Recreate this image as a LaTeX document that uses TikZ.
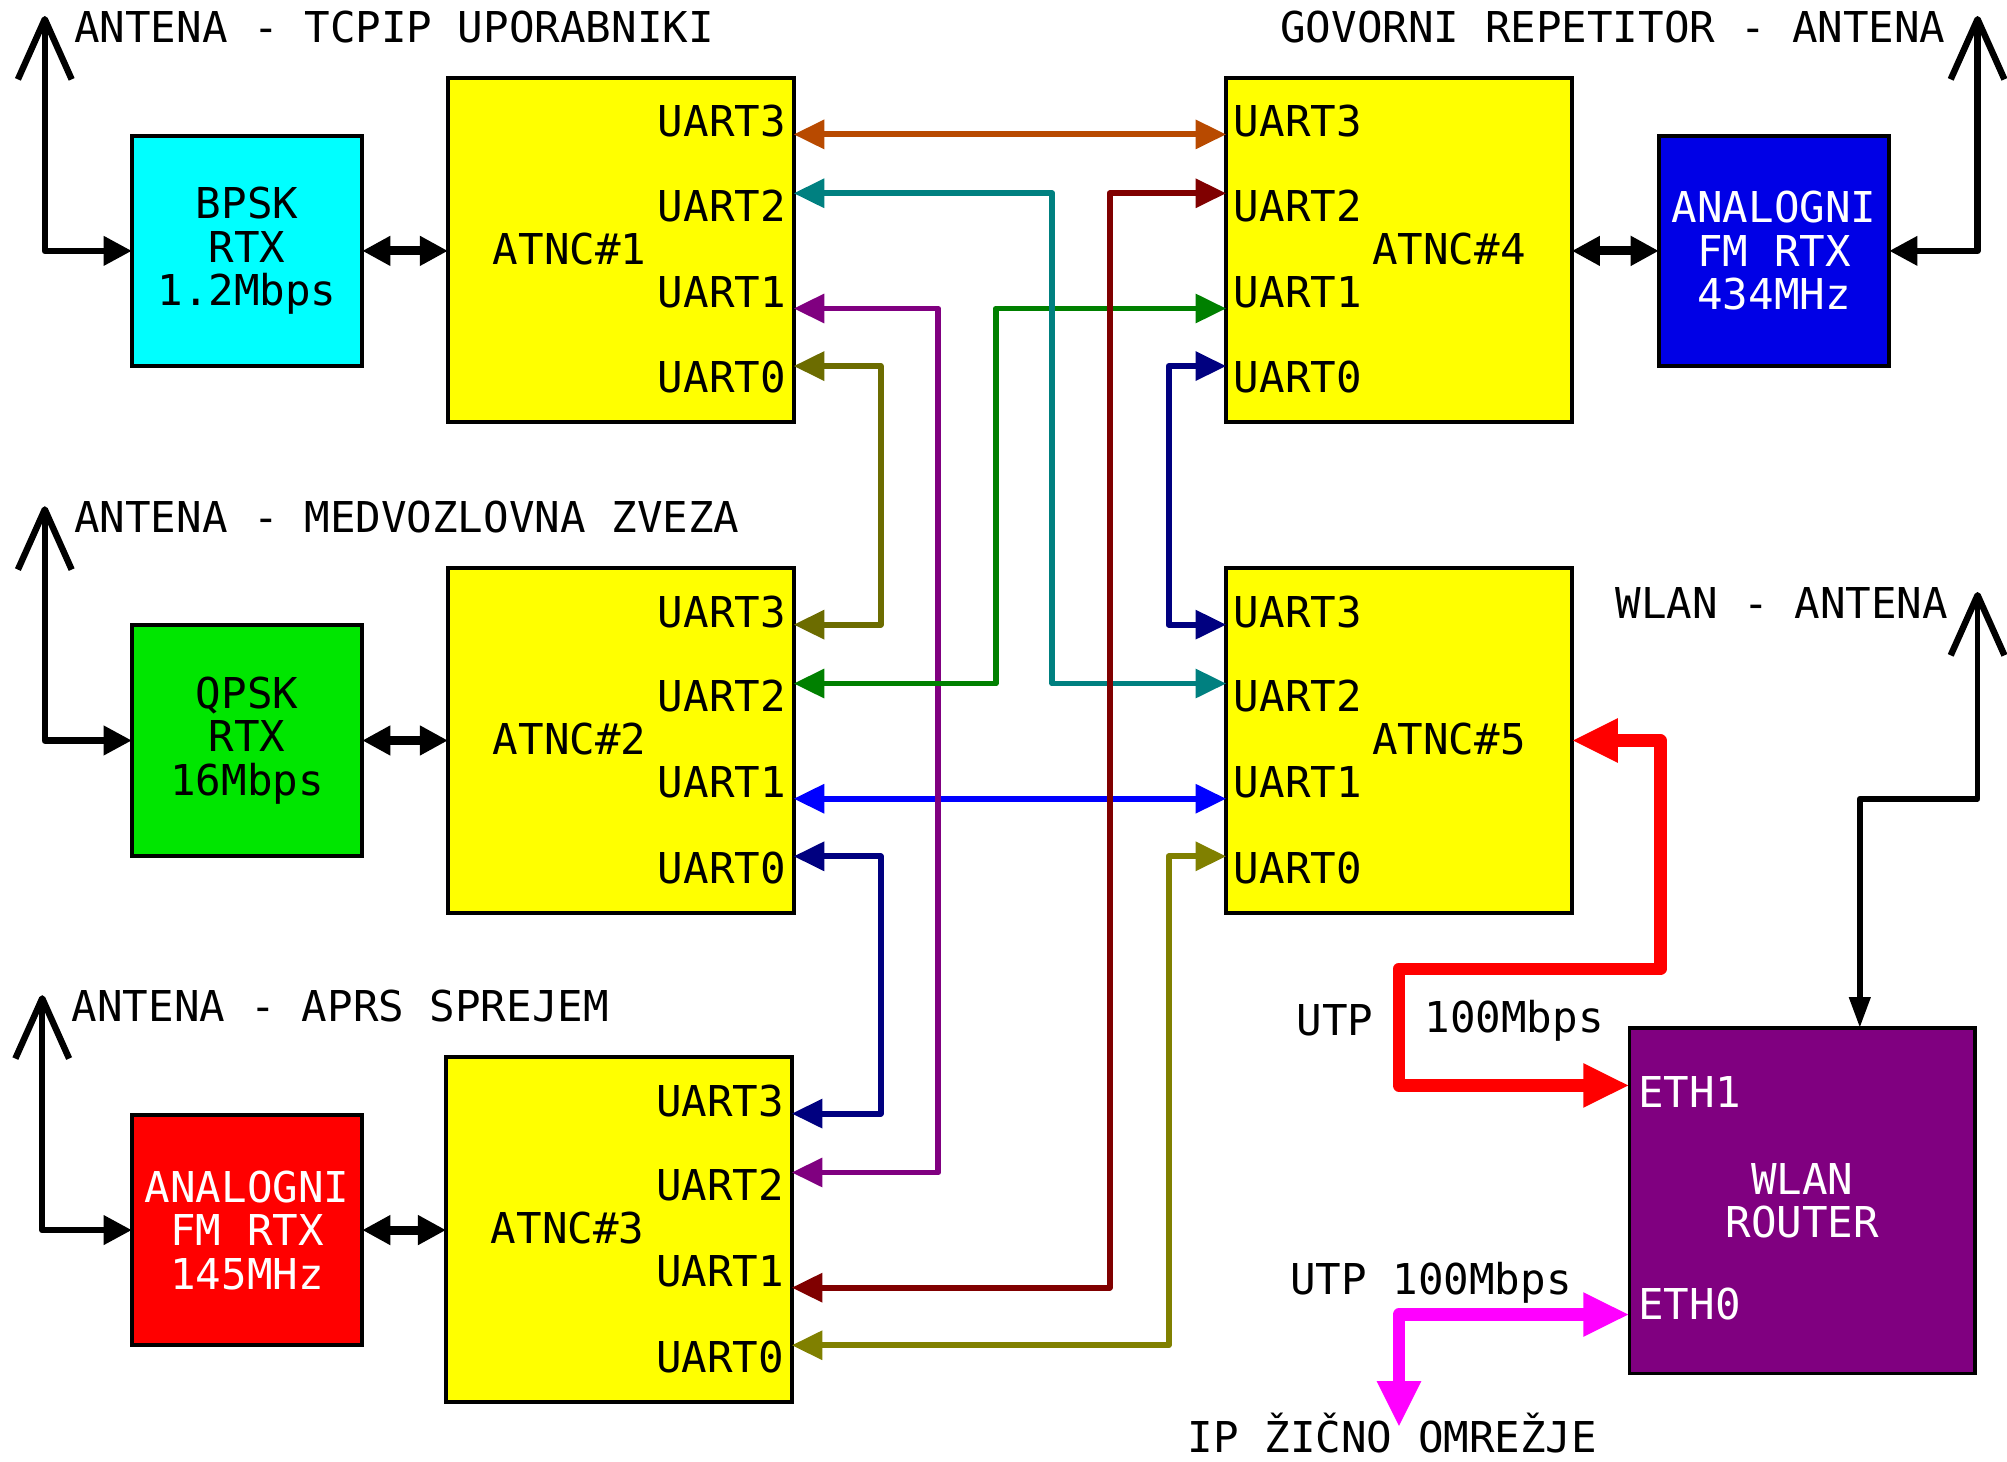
\documentclass[tikz,border=0pt]{standalone}
\usepackage{fontspec}
\setmainfont{DejaVu Sans Mono}
\usetikzlibrary{arrows.meta,calc}
\definecolor{cOrange}{RGB}{184,74,0}
\definecolor{cTeal}{RGB}{0,128,128}
\definecolor{cPurple}{RGB}{128,0,128}
\definecolor{cDOlive}{RGB}{108,108,0}
\definecolor{cOlive}{RGB}{128,128,0}
\definecolor{cMaroon}{RGB}{128,0,0}
\definecolor{cGreen}{RGB}{0,128,0}
\definecolor{cNavy}{RGB}{0,0,128}
\definecolor{cBlue}{RGB}{0,0,255}
\definecolor{fCyan}{RGB}{0,255,255}
\definecolor{fGreen}{RGB}{0,230,0}
\definecolor{fBlue}{RGB}{0,0,230}
\definecolor{fRed}{RGB}{255,0,0}
\definecolor{fYellow}{RGB}{255,255,0}
\definecolor{fPurple}{RGB}{128,0,128}
\definecolor{cMagenta}{RGB}{255,0,255}
\begin{document}
\begin{tikzpicture}[x=0.5pt,y=-0.5pt,
  font=\fontsize{16.6}{17}\selectfont,
  box/.style={draw=black,line width=1.5pt,inner sep=0pt,outer sep=0pt,align=center},
  rtxbox/.style={box,minimum width=90pt,minimum height=90pt},
  atnc/.style={box,fill=fYellow,minimum width=135pt,minimum height=134.5pt},
  lab/.style={inner sep=0pt,outer sep=0pt},
  conn/.style={line width=2.3pt,line join=round,
    arrows={Triangle[length=12pt,width=11pt]-Triangle[length=12pt,width=11pt]}},
  biarrow/.style={line width=3.5pt,
    arrows={Triangle[length=11pt,width=11pt]-Triangle[length=11pt,width=11pt]}},
  antline/.style={line width=2.5pt,line join=round},
  antin/.style={antline,arrows={-Triangle[length=11pt,width=11pt]}},
  utp/.style={line width=5pt,line join=round,
    arrows={Triangle[length=18pt,width=16pt]-Triangle[length=18pt,width=16pt]}}
]
\useasboundingbox (0,0) rectangle (1568,1142);

% radio boxes
\node[rtxbox,fill=fCyan] (bpsk) at (193,196) {BPSK\\RTX\\1.2Mbps};
\node[rtxbox,fill=fGreen] (qpsk) at (193,578.5) {QPSK\\RTX\\16Mbps};
\node[rtxbox,fill=fRed,text=white] (fm145) at (193,961) {ANALOGNI\\FM RTX\\145MHz};
\node[rtxbox,fill=fBlue,text=white] (fm434) at (1386,196) {ANALOGNI\\FM RTX\\434MHz};

% ATNC boxes
\node[atnc] (a1) at (485,195.5) {};
\node[atnc] (a2) at (485,578.5) {};
\node[atnc] (a3) at (483.5,960.5) {};
\node[atnc] (a4) at (1093,195.5) {};
\node[atnc] (a5) at (1093,578.5) {};

% router
\node[box,fill=fPurple,text=white,minimum width=135pt,minimum height=135pt] (rt) at (1408,938) {WLAN\\ROUTER};
\node[lab,anchor=base west,text=white] at ($(rt.north west)+(7,62)$) {ETH1};
\node[lab,anchor=base west,text=white] at ($(rt.north west)+(7,228)$) {ETH0};

% ATNC labels
\node[lab,anchor=base] at ($(a1.center)+(-40,11)$) {ATNC\#1};
\node[lab,anchor=base] at ($(a2.center)+(-40,11)$) {ATNC\#2};
\node[lab,anchor=base] at ($(a3.center)+(-40,11)$) {ATNC\#3};
\node[lab,anchor=base] at ($(a4.center)+(39,11)$) {ATNC\#4};
\node[lab,anchor=base] at ($(a5.center)+(39,11)$) {ATNC\#5};

% UART labels and ports
\foreach \b in {a1,a2,a3} {
  \node[lab,anchor=base east] at ($(\b.north east)+(-6,46)$) {UART3};
  \node[lab,anchor=base east] at ($(\b.north east)+(-6,112)$) {UART2};
  \node[lab,anchor=base east] at ($(\b.north east)+(-6,179)$) {UART1};
  \node[lab,anchor=base east] at ($(\b.north east)+(-6,246)$) {UART0};
  \coordinate (\b p3) at ($(\b.north east)+(0,44)$);
  \coordinate (\b p2) at ($(\b.north east)+(0,90)$);
  \coordinate (\b p1) at ($(\b.north east)+(0,180)$);
  \coordinate (\b p0) at ($(\b.north east)+(0,225)$);
}
\foreach \b in {a4,a5} {
  \node[lab,anchor=base west] at ($(\b.north west)+(6,46)$) {UART3};
  \node[lab,anchor=base west] at ($(\b.north west)+(6,112)$) {UART2};
  \node[lab,anchor=base west] at ($(\b.north west)+(6,179)$) {UART1};
  \node[lab,anchor=base west] at ($(\b.north west)+(6,246)$) {UART0};
  \coordinate (\b p3) at ($(\b.north west)+(0,44)$);
  \coordinate (\b p2) at ($(\b.north west)+(0,90)$);
  \coordinate (\b p1) at ($(\b.north west)+(0,180)$);
  \coordinate (\b p0) at ($(\b.north west)+(0,225)$);
}

% bend columns
\coordinate (xDOlive) at (688,0);
\coordinate (xPurple) at (733,0);
\coordinate (xGreen) at (778,0);
\coordinate (xTeal) at (822,0);
\coordinate (xMaroon) at (867,0);
\coordinate (xRight) at (913,0);

% UART connectors
\draw[conn,cOrange] (a1p3) -- (a4p3);
\draw[conn,cBlue] (a2p1) -- (a5p1);
\draw[conn,cDOlive] (a1p0) -- (a1p0 -| xDOlive) |- (a2p3);
\draw[conn,cNavy] (a2p0) -- (a2p0 -| xDOlive) |- (a3p3);
\draw[conn,cPurple] (a1p1) -- (a1p1 -| xPurple) |- (a3p2);
\draw[conn,cGreen] (a2p2) -- (a2p2 -| xGreen) |- (a4p1);
\draw[conn,cTeal] (a1p2) -- (a1p2 -| xTeal) |- (a5p2);
\draw[conn,cMaroon] (a3p1) -- (a3p1 -| xMaroon) |- (a4p2);
\draw[conn,cNavy] (a4p0) -- (a4p0 -| xRight) |- (a5p3);
\draw[conn,cOlive] (a3p0) -- (a3p0 -| xRight) |- (a5p0);

% radio <-> ATNC
\draw[biarrow] (bpsk.east) -- (a1.west |- bpsk.east);
\draw[biarrow] (qpsk.east) -- (a2.west |- qpsk.east);
\draw[biarrow] (fm145.east) -- (a3.west |- fm145.east);
\draw[biarrow] (a4.east |- fm434.west) -- (fm434.west);

% antennas
\coordinate (t1) at (35,15);
\coordinate (t2) at (35,398);
\coordinate (t3) at (33,780);
\coordinate (t4) at (1545,15);
\coordinate (t6) at (1545,465);
\foreach \t in {t1,t2,t3,t4,t6} {
  \draw[antline] ($(\t)+(-21,47)$) -- (\t) -- ($(\t)+(21,47)$);
}
\draw[antin] (t1) |- (bpsk.west);
\draw[antin] (t2) |- (qpsk.west);
\draw[antin] (t3) |- (fm145.west);
\draw[antin] (t4) |- (fm434.east);
\coordinate (rtin) at ($(rt.north west)+(180,0)$);
\draw[line width=2.2pt,line join=round,arrows={-Triangle[length=12pt,width=8pt]}] (t6) -- ++(0,159) -| (rtin);

% antenna labels
\node[lab,anchor=base west] at (58,33) {ANTENA - TCPIP UPORABNIKI};
\node[lab,anchor=base east] at (1520,33) {GOVORNI REPETITOR - ANTENA};
\node[lab,anchor=base west] at (58,416) {ANTENA - MEDVOZLOVNA ZVEZA};
\node[lab,anchor=base west] at (56,798) {ANTENA - APRS SPREJEM};
\node[lab,anchor=base east] at (1522,483) {WLAN - ANTENA};

% UTP links
\coordinate (eth1) at ($(rt.north west)+(0,45)$);
\coordinate (eth0) at ($(rt.north west)+(0,224)$);
\coordinate (ipnet) at (1093,1115);
\draw[utp,fRed] (a5.east) -- ++(69,0) |- (1093,757) |- (eth1);
\draw[utp,cMagenta] (eth0) -| (ipnet);
\node[lab,anchor=base west] at (1013,809) {UTP};
\node[lab,anchor=base west] at (1113,807) {100Mbps};
\node[lab,anchor=base west] at (1008,1011) {UTP 100Mbps};
\node[lab,anchor=base west] at (928,1135) {IP ŽIČNO OMREŽJE};
\end{tikzpicture}
\end{document}
